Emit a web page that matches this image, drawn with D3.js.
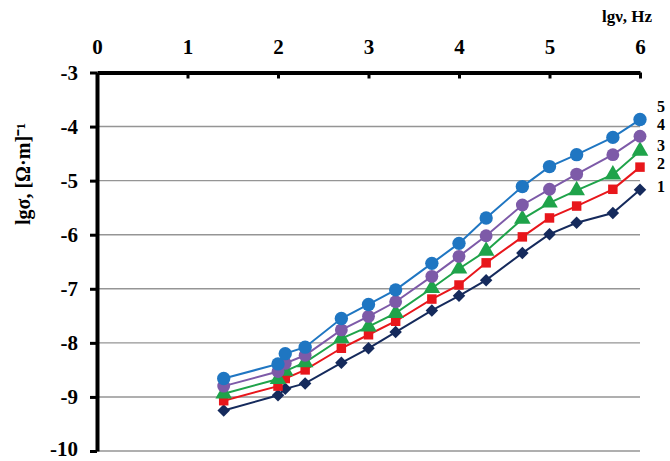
<!DOCTYPE html>
<html>
<head>
<meta charset="utf-8">
<script src="https://cdn.jsdelivr.net/npm/d3@7"></script>
<style>
  body { margin: 0; background: #fff; }
  text { font-family: "Liberation Serif", "Times New Roman", serif; font-weight: bold; }
</style>
</head>
<body>
<div id="chart"></div>
<script>
// lg of measurement frequency, Hz
var lgF = [1.4, 2, 2.08, 2.3, 2.7, 3, 3.3, 3.7, 4, 4.3, 4.7, 5, 5.3, 5.7, 6];

// lg of conductivity for the five samples
var s1 = [-9.25, -8.97, -8.85, -8.75, -8.37, -8.1, -7.8, -7.4, -7.13, -6.84, -6.34, -5.99, -5.78, -5.6, -5.17];
var s2 = [-9.07, -8.8, -8.66, -8.5, -8.1, -7.85, -7.6, -7.19, -6.93, -6.52, -6.04, -5.69, -5.47, -5.16, -4.75];
var s3 = [-8.94, -8.67, -8.52, -8.36, -7.92, -7.7, -7.45, -6.99, -6.63, -6.3, -5.71, -5.41, -5.18, -4.89, -4.45];
var s4 = [-8.8, -8.53, -8.38, -8.23, -7.76, -7.51, -7.24, -6.77, -6.4, -6.02, -5.45, -5.16, -4.88, -4.52, -4.18];
var s5 = [-8.66, -8.39, -8.2, -8.08, -7.55, -7.29, -7.02, -6.53, -6.16, -5.69, -5.11, -4.74, -4.52, -4.2, -3.87];

var seriesNames = ["1", "2", "3", "4", "5"];
var xTicks = [0, 1, 2, 3, 4, 5, 6];
var yTicks = [-3, -4, -5, -6, -7, -8, -9, -10];

var width = 670, height = 461;

var x = d3.scaleLinear().domain([0, 6]).range([97, 640]);
var y = d3.scaleLinear().domain([-3, -10]).range([72.5, 451]);

var svg = d3.select("#chart").append("svg")
  .attr("width", width)
  .attr("height", height);

// horizontal grid
svg.append("g")
  .selectAll("line")
  .data(yTicks.slice(1))
  .enter()
  .append("line")
  .attr("x1", x(0))
  .attr("x2", x(6))
  .attr("y1", function (d) { return y(d); })
  .attr("y2", function (d) { return y(d); })
  .style("stroke", "#959595")
  .style("stroke-width", 1.4);

var colors = ["#152a5c", "#e8161b", "#1fa34a", "#7d5aa8", "#1f76c2"];
var data = [s1, s2, s3, s4, s5];

var line = d3.line()
  .x(function (d) { return x(d[0]); })
  .y(function (d) { return y(d[1]); });

data.forEach(function (s, i) {
  var pts = lgF.map(function (f, j) { return [f, s[j]]; });
  svg.append("path")
    .datum(pts)
    .attr("d", line)
    .style("fill", "none")
    .style("stroke", colors[i])
    .style("stroke-width", 2);
});

// markers: diamond, square, triangle, circle, circle
var shapes = [d3.symbolSquare, d3.symbolSquare, d3.symbolTriangle, d3.symbolCircle, d3.symbolCircle];
var sizes = [78, 90, 120, 130, 140];

data.forEach(function (s, i) {
  var pts = lgF.map(function (f, j) { return [f, s[j]]; });
  svg.append("g")
    .selectAll("path")
    .data(pts)
    .enter()
    .append("path")
    .attr("d", d3.symbol().type(shapes[i]).size(sizes[i]))
    .attr("transform", function (d) {
      var r = i === 0 ? " rotate(45)" : "";
      return "translate(" + x(d[0]) + "," + y(d[1]) + ")" + r;
    })
    .style("fill", colors[i]);
});

// top axis
var xAxis = d3.axisTop(x)
  .tickValues(xTicks)
  .tickFormat(function (d) { return String(d); })
  .tickSizeInner(-6)
  .tickSizeOuter(0)
  .tickPadding(19);

var gx = svg.append("g")
  .attr("transform", "translate(0," + y(-3) + ")")
  .call(xAxis);
gx.select(".domain").style("stroke", "#000").style("stroke-width", 4);
gx.selectAll(".tick line").style("stroke", "#000").style("stroke-width", 3);
gx.selectAll(".tick text")
  .style("font-size", "21px")
  .style("font-family", "Liberation Serif, serif")
  .style("fill", "#000");

// left axis
var yAxis = d3.axisLeft(y)
  .tickValues(yTicks)
  .tickFormat(function (d) { return String(d); })
  .tickSizeInner(7)
  .tickSizeOuter(0)
  .tickPadding(12);

var gy = svg.append("g")
  .attr("transform", "translate(" + x(0) + ",0)")
  .call(yAxis);
gy.select(".domain").style("stroke", "#000").style("stroke-width", 4);
gy.selectAll(".tick line").style("stroke", "#000").style("stroke-width", 3);
gy.selectAll(".tick text")
  .style("font-size", "21px")
  .style("font-family", "Liberation Serif, serif")
  .style("fill", "#000")
  .attr("dy", function (d) { return d === -10 ? "0.2em" : "0.32em"; });

// axis titles
svg.append("text")
  .attr("x", 652)
  .attr("y", 22)
  .attr("text-anchor", "end")
  .style("font-size", "17px")
  .text("lgν, Hz");

svg.append("text")
  .attr("transform", "translate(30,174) rotate(-90)")
  .attr("text-anchor", "middle")
  .style("font-size", "20px")
  .text("lgσ, [Ω·m]⁻¹");

// series labels at the right end
var labelDy = [-3, -4, -6, -12, -13];
data.forEach(function (s, i) {
  svg.append("text")
    .attr("x", 657)
    .attr("y", y(s[s.length - 1]) + labelDy[i])
    .attr("dy", "0.35em")
    .style("font-size", "16px")
    .text(seriesNames[i]);
});
</script>
</body>
</html>
